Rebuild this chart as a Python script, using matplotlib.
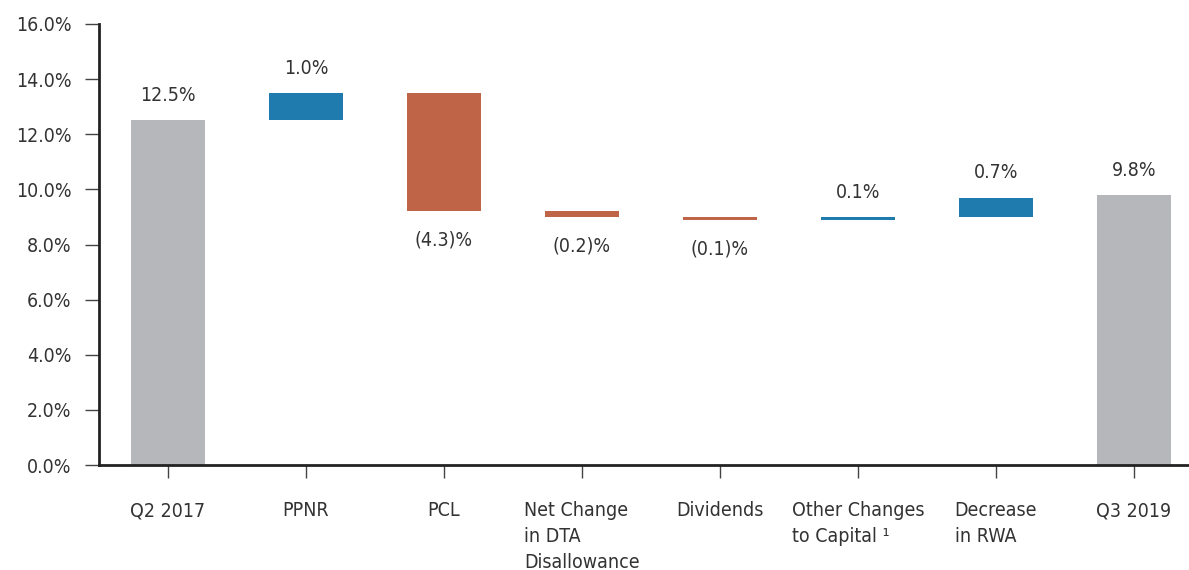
import matplotlib.pyplot as plt
from matplotlib import font_manager

names = {f.name for f in font_manager.fontManager.ttflist}
font = 'Liberation Sans Narrow' if 'Liberation Sans Narrow' in names else 'DejaVu Sans'
plt.rcParams['font.family'] = [font, 'DejaVu Sans']
plt.rcParams['font.stretch'] = 'condensed'

categories = ['Q2 2017', 'PPNR', 'PCL', 'Net Change\nin DTA\nDisallowance',
              'Dividends', 'Other Changes\nto Capital \u00b9', 'Decrease\nin RWA', 'Q3 2019']
start_value = 12.5
changes = [1.0, -4.3, -0.2, -0.1, 0.1, 0.7]
end_value = 9.8
labels = ['12.5%', '1.0%', '(4.3)%', '(0.2)%', '(0.1)%', '0.1%', '0.7%', '9.8%']

grey = '#b6b7bb'
blue = '#1f7aae'
orange = '#bf6446'
text_col = '#333333'

fig = plt.figure(figsize=(11.89, 5.70), dpi=100)
ax = fig.add_axes([0.0833, 0.184, 0.9167, 0.774])

width = 0.54
bottoms, heights, colors = [0], [start_value], [grey]
level = start_value
for c in changes:
    bottoms.append(level if c > 0 else level + c)
    heights.append(abs(c))
    colors.append(blue if c > 0 else orange)
    level += c
bottoms.append(0)
heights.append(end_value)
colors.append(grey)

x = list(range(len(categories)))
ax.bar(x, heights, width, bottom=bottoms, color=colors)

for i in x:
    neg = 0 < i < len(categories) - 1 and changes[i - 1] < 0
    if neg:
        ax.annotate(labels[i], (i, bottoms[i]), xytext=(0, -14), textcoords='offset points',
                    ha='center', va='top', fontsize=14, color=text_col)
    else:
        ax.annotate(labels[i], (i, bottoms[i] + heights[i]), xytext=(0, 11), textcoords='offset points',
                    ha='center', va='bottom', fontsize=14, color=text_col)

ax.set_xlim(-0.5, 7.4)
ax.set_ylim(0, 16)
ax.set_yticks([0, 2, 4, 6, 8, 10, 12, 14, 16])
ax.set_yticklabels([f'{v:.1f}%' for v in range(0, 17, 2)])
ax.set_xticks(x)
ax.set_xticklabels(categories, ha='center', multialignment='left', va='top', linespacing=1.45)

for side in ['top', 'right']:
    ax.spines[side].set_visible(False)
for side in ['left', 'bottom']:
    ax.spines[side].set_linewidth(2)
    ax.spines[side].set_color('#222222')
ax.tick_params(axis='y', length=10, width=1, color='#444444', labelsize=14, labelcolor=text_col, pad=10)
ax.tick_params(axis='x', length=9, width=1, color='#444444', labelsize=14, labelcolor=text_col, pad=17)

fig.savefig('out.png', dpi=100)
